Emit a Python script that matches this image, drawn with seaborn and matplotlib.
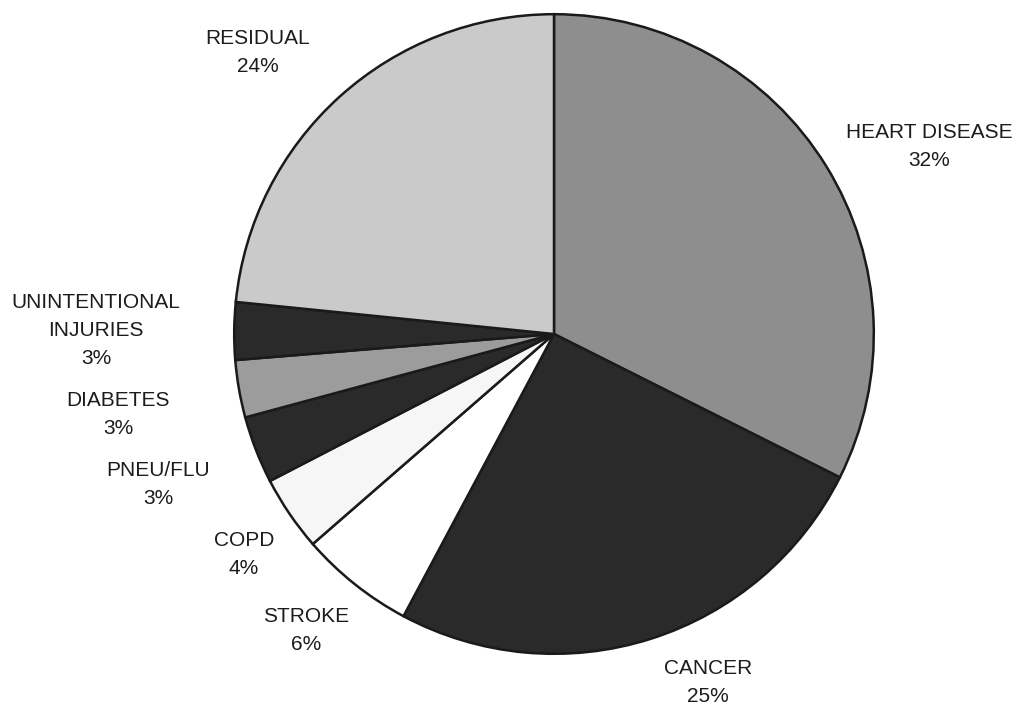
import matplotlib
matplotlib.use("Agg")
import matplotlib.pyplot as plt
import seaborn as sns

# Share of deaths by cause (slice sizes)
causes = ["HEART DISEASE", "CANCER", "STROKE", "COPD", "PNEU/FLU",
          "DIABETES", "UNINTENTIONAL\nINJURIES", "RESIDUAL"]
shares = [32.4, 25.4, 5.8, 3.8, 3.4, 2.9, 2.9, 23.4]
pct_labels = ["32%", "25%", "6%", "4%", "3%", "3%", "3%", "24%"]

# greyscale fills as in the scanned original
fills = ["#8e8e8e", "#2a2a2a", "#ffffff", "#f6f6f6", "#2a2a2a",
         "#9c9c9c", "#2a2a2a", "#cacaca"]

# label anchor points in pixel coords (x, y from top)
label_pos = [(929, 147), (708, 682), (306, 630), (244, 554), (158, 484),
             (118, 414), (96, 330), (258, 52)]

sns.set_style("white")
plt.rcParams["font.family"] = ["Liberation Sans", "DejaVu Sans"]

W, H = 1019, 707
fig = plt.figure(figsize=(W / 100, H / 100), dpi=100)
fig.patch.set_facecolor("white")

cx, cy, r = 554, 334, 323
ax = fig.add_axes([(cx - r) / W, (H - cy - r) / H, 2 * r / W, 2 * r / H])
ax.pie(shares, colors=fills, startangle=90, counterclock=False, radius=1,
       wedgeprops=dict(edgecolor="#1a1a1a", linewidth=1.8))
ax.set_xlim(-1.01, 1.01)
ax.set_ylim(-1.01, 1.01)
ax.set_aspect("equal")
ax.axis("off")

for name, pct, (px, py) in zip(causes, pct_labels, label_pos):
    fig.text(px / W, 1 - py / H, f"{name}\n{pct}", ha="center", va="center",
             fontsize=15, color="#1c1c1c", linespacing=1.6)

fig.savefig("out.png", dpi=100)
